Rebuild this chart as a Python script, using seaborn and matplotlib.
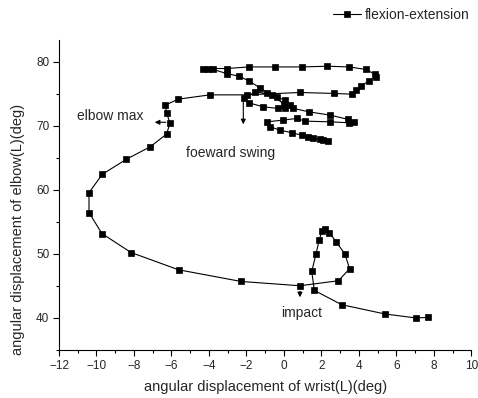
import matplotlib
matplotlib.use("Agg")
import matplotlib.pyplot as plt
from matplotlib.ticker import MultipleLocator
import pandas as pd
import seaborn as sns

# wrist (x) vs elbow (y) angular displacement, in time order
wrist = [2.36, 2.10, 1.92, 1.56, 1.30, 0.94, 0.41, -0.21, -0.75, -0.92,
         -0.04, 0.68, 1.12, 2.45, 3.48, 3.73, 3.43, 2.45, 1.33, 0.50,
         0.05, -0.32, -1.10, -1.87, -2.12, -1.55, -0.92, -0.39, 0.05, 0.32,
         0.00, -0.66, -1.28, -1.87, -2.40, -3.06, -3.77, -4.04, -4.30, -3.06,
         -1.87, -0.48, 0.94, 2.31, 3.48, 4.37, 4.85, 4.89, 4.53, 4.09,
         3.84, 3.61, 2.67, 0.85, -1.99, -3.95, -5.64, -6.33, -6.26, -6.08,
         -6.26, -7.13, -8.41, -9.69, -10.40, -10.40, -9.71, -8.16, -5.62, -2.29,
         0.85, 2.90, 3.50, 3.25, 2.77, 2.42, 2.19, 2.03, 1.88, 1.71,
         1.48, 1.62, 3.08, 5.39, 7.04, 7.66]
elbow = [67.66, 67.77, 67.88, 68.04, 68.29, 68.55, 68.91, 69.33, 69.84, 70.62,
         70.89, 71.15, 70.73, 70.62, 70.47, 70.62, 71.00, 71.67, 72.18, 72.71,
         72.71, 72.71, 72.96, 73.58, 74.27, 75.30, 75.05, 74.52, 74.00, 73.22,
         73.40, 74.78, 75.92, 77.01, 77.74, 78.16, 78.79, 78.94, 78.94, 78.94,
         79.19, 79.19, 79.19, 79.30, 79.19, 78.79, 78.05, 77.63, 76.96, 76.23,
         75.56, 74.94, 75.05, 75.20, 74.83, 74.83, 74.16, 73.22, 71.98, 70.42,
         68.71, 66.73, 64.77, 62.43, 59.56, 56.45, 53.18, 50.22, 47.52, 45.70,
         45.03, 45.81, 47.68, 49.97, 51.93, 53.33, 53.86, 53.60, 52.20, 50.02,
         47.26, 44.30, 42.07, 40.62, 40.00, 40.09]

x_ticks = [-12, -10, -8, -6, -4, -2, 0, 2, 4, 6, 8, 10]
y_ticks = [40, 50, 60, 70, 80]

sns.set_style("ticks")
plt.rcParams["font.family"] = ["Liberation Sans", "DejaVu Sans"]

df = pd.DataFrame({"wrist": wrist, "elbow": elbow})

fig = plt.figure(figsize=(4.78, 3.98), dpi=100)
ax = fig.add_axes([0.1234, 0.1206, 0.863, 0.779])

sns.lineplot(data=df, x="wrist", y="elbow", sort=False, estimator=None,
             marker="s", markersize=4.3, color="black", linewidth=0.8,
             markeredgecolor="black", markeredgewidth=0.5,
             label="flexion-extension", ax=ax)

ax.set_xlim(-12, 10)
ax.set_ylim(35, 83.4)
ax.set_xticks(x_ticks)
ax.set_yticks(y_ticks)
ax.xaxis.set_minor_locator(MultipleLocator(1))
ax.yaxis.set_minor_locator(MultipleLocator(5))
ax.tick_params(axis="both", which="major", labelsize=8.5, length=4, width=0.8,
               color="black", pad=3)
ax.tick_params(axis="both", which="minor", length=2.5, width=0.8, color="black")
for side in ["left", "bottom"]:
    ax.spines[side].set_linewidth(0.8)
    ax.spines[side].set_color("black")
sns.despine(ax=ax)

ax.set_xlabel("angular displacement of wrist(L)(deg)", fontsize=10.5, labelpad=6)
ax.set_ylabel("angular displacement of elbow(L)(deg)", fontsize=10.5)
ax.yaxis.set_label_coords(-0.082, 0.39)

# annotations
arrow = dict(arrowstyle="-|>", color="black", lw=0.8, mutation_scale=7)
ax.annotate("", xy=(-7.04, 70.55), xytext=(-6.15, 70.55), arrowprops=arrow)
ax.text(-7.5, 71.6, "elbow max", ha="right", va="center", fontsize=10)
ax.annotate("", xy=(-2.17, 69.8), xytext=(-2.17, 74.3), arrowprops=arrow)
ax.text(-2.85, 65.75, "foeward swing", ha="center", va="center", fontsize=10)
ax.annotate("", xy=(0.85, 42.8), xytext=(0.85, 44.6), arrowprops=arrow)
ax.text(0.93, 40.8, "impact", ha="center", va="center", fontsize=10)

leg = ax.legend(loc="upper right", bbox_to_anchor=(1.0, 1.0),
                bbox_transform=fig.transFigure, frameon=False, fontsize=10,
                handlelength=2.0, handletextpad=0.3, borderaxespad=0.2)

fig.savefig("out.png", dpi=100)
